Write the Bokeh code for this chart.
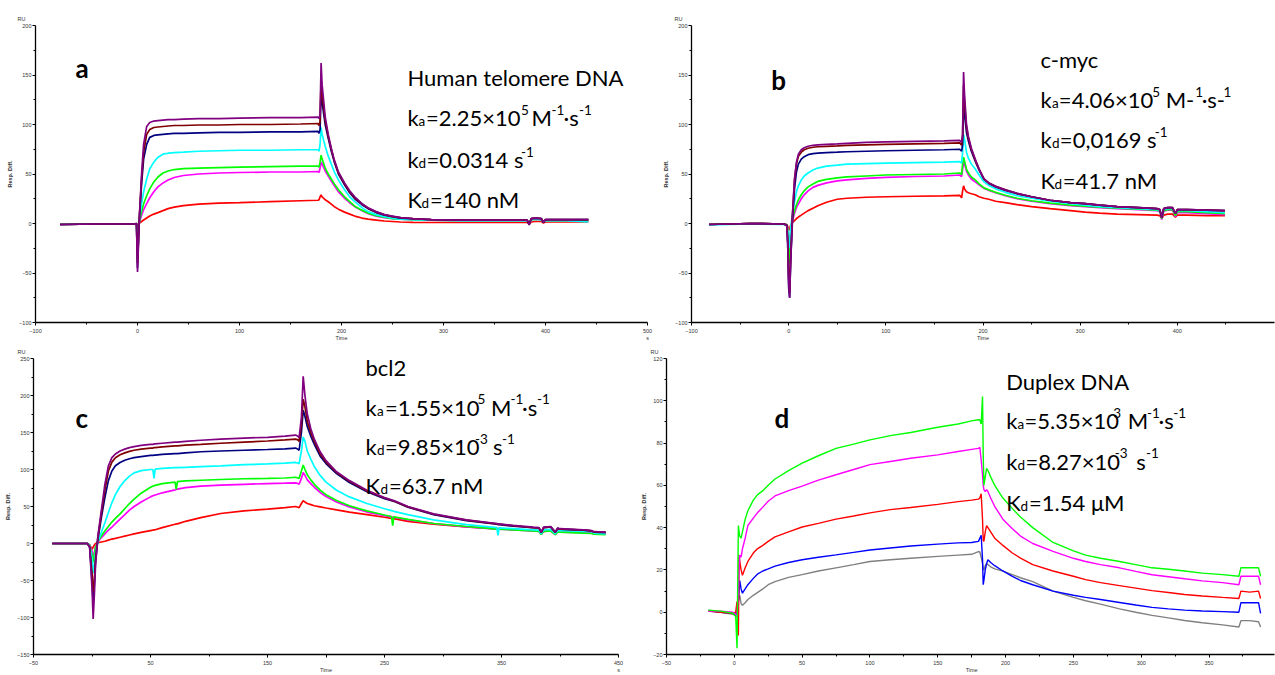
import math
from bokeh.plotting import figure
from bokeh.models import Range1d, Label, FixedTicker
from bokeh.layouts import column, row
from bokeh.embed import file_html
from bokeh.resources import INLINE

# ---------------- DATA ----------------
# Panel a : Human telomere DNA
TA = [-76, -36, -3, -1, 0, 1,
      2, 4, 6, 9, 12, 16, 20, 25, 30, 36,
      45, 60, 80, 100, 130, 160, 177, 178,
      179, 180, 181, 184, 187, 190, 193, 197,
      203, 208, 213, 220, 226, 234, 242, 250, 258, 270, 288, 320, 360,
      382, 384, 386, 390, 396, 398, 400, 420, 442]
A_PURPLE = [-1, -0.5, -0.5, 0, -49, -20,
            10, 50, 80, 98, 102, 103.5, 104, 104.5, 105, 105,
            105.5, 106, 106, 106.5, 107, 107, 107.5, 106,
            110, 162, 140, 108, 90, 76, 64, 52,
            41, 33, 27, 20, 16, 12, 9, 7.5, 6, 5, 4, 3.5, 3.5,
            3.5, -1, 5, 5.5, 5, 1, 4, 4, 4]
A_BROWN = [-1, -0.5, -0.5, 0, -40, -15,
           10, 45, 72, 90, 95, 97, 97.5, 98, 98.5, 99,
           99, 99.5, 99.5, 100, 100, 100.5, 101, 99,
           103, 145, 130, 104, 88, 75, 63, 51,
           40, 32, 26, 20, 15.5, 11.5, 9, 7, 6, 5, 4, 3.5, 3.5,
           3.5, -1, 5, 5.5, 5, 1, 4, 4, 4]
A_NAVY = [-1, -0.5, -0.5, 0, -45, -15,
          8, 40, 65, 80, 87, 89, 89.5, 90, 90.5, 91,
          91, 91.5, 92, 92, 92.5, 92.5, 93, 91,
          95, 135, 122, 100, 86, 73, 62, 50,
          39, 31, 25, 19, 15, 11, 8.5, 7, 5.5, 4.8, 4, 3.5, 3.5,
          3.5, -1.5, 5, 5.5, 5, 1, 4, 4, 4]
A_CYAN = [-1, -0.5, -0.5, 0, -25, -8,
          5, 20, 32, 45, 55, 62, 67, 70, 71, 71.5,
          72, 73, 73.5, 74, 74, 74.5, 74.5, 73,
          80, 97, 90, 78, 68, 60, 52, 44,
          34, 27, 22, 16, 12, 9, 7, 5.5, 4.5, 4, 3.3, 3, 3,
          3, 0, 4, 4.5, 4, 1, 3, 3, 1.5]
A_GREEN = [-1, -0.5, -0.5, 0, -15, -5,
           3, 12, 20, 28, 35, 42, 47, 51, 53, 54.5,
           55.5, 56, 56.5, 57, 57.5, 58, 58, 57,
           62, 69, 65, 56, 50, 45, 40, 34,
           27, 22, 17.5, 13.5, 10.5, 8, 6.5, 5, 4.5, 4, 3.5, 3, 3,
           3, 0, 4, 4.5, 4, 1, 3, 3, 3]
A_MAGENTA = [-1, -0.5, -0.5, 0, -10, -3,
             2, 8, 14, 20, 26, 32, 37, 41, 44, 46.5,
             48.5, 50, 51, 51.5, 52, 52, 52.5, 51.5,
             56, 62, 60, 53, 48, 43, 38, 32,
             25.5, 21, 17, 13, 10, 7.5, 6, 5, 4.3, 3.8, 3.3, 3, 3,
             3, 0, 4, 4.5, 4, 1, 3, 3, 3]
A_RED = [-1, -0.5, -0.5, 0, -4, -1,
         0.5, 2, 3.5, 5.5, 7.5, 9.5, 11, 13, 15, 16.5,
         18, 19.5, 20.5, 21, 22, 23, 23.5, 24,
         27, 29, 27, 24, 22, 19.5, 17, 14.5,
         11.5, 9.5, 7.5, 5.5, 4.5, 3.5, 2.5, 2, 1.5, 1.2, 1, 1, 1,
         1, 0, 1.5, 2, 2, 0.5, 1.5, 1.5, 1.5]

# Panel b : c-myc
TB = [-82, -40, -5, -2, -1, 0, 1, 2,
      4, 6, 8, 10, 13, 16, 20, 25, 30, 39,
      50, 60, 80, 100, 130, 160, 176, 178,
      179, 180, 181, 183, 185, 188, 192, 196,
      201, 206, 213, 223, 235, 250, 269, 290, 305, 320, 338, 360, 379,
      382, 384, 386, 390, 395, 398, 400, 410, 430, 449]
B_PURPLE = [-1, 0, -0.5, -2, -20, -60, -75, -40,
            10, 45, 62, 70, 74.5, 76.5, 78, 79, 79.5, 80,
            80.5, 81, 82, 82.5, 83, 83.5, 84, 82,
            90, 153, 130, 100, 88, 76, 65, 55,
            45, 41, 37.5, 34, 30.5, 27, 23.5, 21, 20, 18.5, 17, 16, 15,
            14, 6, 15, 16, 16, 10, 14, 14, 13.5, 13]
B_BROWN = [-1, 0, -0.5, -1.5, -15, -55, -70, -35,
           10, 43, 60, 68, 72, 74.5, 76, 77, 77.5, 78,
           78.5, 79, 79.5, 80, 80.5, 81, 81.5, 79,
           88, 140, 122, 97, 86, 75, 64, 55,
           45, 41, 37.5, 34, 30.5, 27, 23.5, 21, 20, 18.5, 17, 16, 15,
           14, 6, 15, 16, 16, 10, 14, 14, 13.5, 13]
B_NAVY = [-1, 0, -0.5, -2, -20, -65, -75, -40,
          5, 35, 52, 60, 65, 67.5, 69.5, 70.5, 71, 71.5,
          72, 72.5, 73, 73.5, 74, 74.5, 75, 73,
          80, 120, 110, 92, 83, 73, 63, 54,
          44.5, 40.5, 37, 33.5, 30, 27, 23.5, 21, 20, 18.5, 17, 16, 15,
          14, 6, 15, 16, 16, 10, 14, 14, 13.5, 13]
B_CYAN = [-1.5, -0.5, -1, -2, -8, -25, -20, -5,
          10, 22, 32, 38, 44, 48, 51, 54, 56, 58,
          59, 60, 60.5, 61, 61.5, 62, 62.5, 61,
          72, 90, 85, 72, 66, 60, 55, 49,
          42, 38.5, 35, 31.5, 28, 25.5, 22.5, 20, 18.5, 17, 16, 15, 14,
          13, 6, 14, 15, 15, 10, 13, 13, 12, 11]
B_GREEN = [-1, 0, -0.5, -1, -5, -35, -40, -10,
           5, 13, 19, 24, 29, 33, 37, 40, 42.5, 44.5,
           46, 47, 48, 49, 49.5, 50, 51, 49.5,
           60, 67, 63, 55, 51, 47, 44, 40,
           36, 34, 31.5, 28.5, 25.5, 23, 20.5, 18.5, 17.5, 16.5, 15.5, 14.5, 13.5,
           12.5, 5, 13, 14, 14, 8, 12, 12, 11, 10]
B_MAGENTA = [-1, 0, -0.5, -1, -5, -15, -20, -8,
             3, 10, 16, 20, 25, 29, 33, 36.5, 38.5, 41,
             43, 44, 45.5, 46.5, 47.5, 48, 49, 47.5,
             55, 62, 60, 53, 49, 45, 42, 39,
             35.5, 33.5, 31, 28, 25, 22.5, 20, 18, 17, 16, 15, 14, 13,
             12, 4, 12.5, 13.5, 13.5, 7, 11, 11, 10, 9]
B_RED = [-1, 0, -0.5, -1, -3, -7, -5, -2,
         1, 3, 5, 6.5, 8.5, 10.5, 13, 15.5, 18, 21.5,
         24.5, 25.5, 26.5, 27, 27.5, 28, 28.5, 26,
         33, 38, 35, 32, 31, 30, 29, 27,
         25.5, 24.5, 22.5, 21, 19, 17, 15, 13, 11.5, 10.5, 9.5, 9, 8.5,
         8, 5, 8.5, 9.5, 9.5, 6.5, 8.5, 8.5, 8, 8]

# Panel c : bcl2
TC = [-34, -4, -2, 0, 1, 2, 3,
      5, 8, 11, 14, 17, 20, 24, 28, 32, 36, 42,
      50, 52, 53, 54, 60, 71, 72, 73, 80, 93, 110, 130, 150, 165, 174, 176, 177,
      179, 180.5, 182, 184, 187, 190, 195, 200, 209, 220, 235, 250,
      256, 257, 258, 270, 292, 320, 346, 347, 348, 360, 377,
      382, 384, 386, 392, 396, 398, 400, 420, 427, 429, 439]
C_PURPLE = [0, 0, -5, -60, -102, -70, -30,
            10, 45, 80, 105, 116, 121, 125, 127.5, 129.5, 131, 132.5,
            134, 134, 134.5, 134.5, 135.5, 137, 137, 137, 138, 139.5, 141, 142.5, 143.5, 145, 146.5, 145, 143,
            170, 226, 200, 175, 155, 141, 124, 112, 97, 85, 72, 62,
            59, 58.5, 58, 50, 40, 32, 27, 26.5, 26.5, 24.5, 22,
            21.5, 15.5, 22, 23, 15.5, 21, 20, 18.5, 17.5, 16, 15.5]
C_BROWN = [0, 0, -4, -40, -66, -50, -20,
           8, 40, 72, 98, 110, 116, 120, 122.5, 124.5, 126, 127.5,
           129, 129, 129.5, 129.5, 130.5, 132, 132, 132, 133, 134, 135.5, 137, 138.5, 140, 141, 140, 138,
           160, 195, 185, 165, 150, 138, 121, 110, 96, 84, 71, 61.5,
           58.5, 58, 57.5, 49.5, 39.5, 31.5, 26.5, 26, 26, 24, 21.5,
           21, 15, 21.5, 22.5, 15, 20.5, 19.5, 18, 17, 15.5, 15]
C_NAVY = [0, 0, -5, -50, -80, -55, -25,
          5, 35, 62, 85, 98, 105, 109.5, 112.5, 114.5, 116, 117.5,
          119, 119, 119.5, 119.5, 120.5, 121.5, 121.5, 121.5, 122.5, 124, 125, 126, 127, 128, 129, 127.5, 126,
          150, 180, 172, 158, 145, 134, 118, 108, 94.5, 82.5, 70, 60.5,
          58, 57.5, 57, 49, 39, 31, 26, 25.5, 25.5, 23.5, 21.5,
          21, 15, 21.5, 22.5, 15, 20.5, 19.5, 18, 17, 15.5, 15]
C_CYAN = [0, 0, -3, -20, -40, -30, -12,
          2, 15, 28, 42, 55, 66, 77, 85, 91, 95.5, 98.5,
          100, 100, 88, 100.5, 101.5, 102.5, 102.5, 102.5, 103, 104, 105, 106.5, 107.5, 108.5, 109.5, 108.5, 108,
          125, 144, 138, 125, 114, 104, 92, 83, 72, 63, 54, 47,
          44.5, 44, 43.5, 39, 32, 25.5, 21.5, 11, 21, 20, 18.5,
          18, 13, 18.5, 19, 13, 17.5, 17.5, 16.5, 16, 14, 13]
C_GREEN = [0, 0, -2, -15, -25, -15, -5,
           3, 10, 17, 23, 29, 34, 40, 47, 54, 60, 68,
           76, 77.5, 78, 78.5, 81, 83, 73, 83.5, 84.5, 85.5, 86.5, 87.5, 88, 88.5, 89.5, 88.5, 88,
           98, 106, 100, 93, 86, 80, 72, 66, 58, 51, 44, 38.5,
           36.5, 24, 36, 32.5, 27, 23, 19.5, 19.5, 19.5, 18.5, 17,
           16.5, 12, 16.5, 17, 12, 15.5, 15.5, 14, 13.5, 12.5, 12]
C_MAGENTA = [0, 0, -2, -10, -20, -12, -4,
             2, 8, 13, 18, 22, 27, 33, 39, 45, 50, 56,
             63, 64.5, 65, 65.5, 68.5, 72.5, 73, 73.5, 75.5, 77.5, 79, 80, 81, 81.5, 82, 81, 80,
             88, 96, 92, 86, 81, 76, 69, 63.5, 56, 49.5, 42.5, 37.5,
             36, 35.5, 35.5, 32, 27, 22.5, 19.5, 19.5, 19.5, 18.5, 17,
             16.5, 12, 16.5, 17, 12, 15.5, 15.5, 14.5, 14, 13, 12.5]
C_RED = [0, 0, -2, -8, -5, -2, 0,
         1, 2, 3, 4.5, 6, 7, 8.5, 10, 11.5, 13, 15,
         17.5, 18, 18.5, 18.5, 21.5, 26, 26.5, 26.5, 30, 35, 40.5, 44, 46.5, 48.5, 50, 49, 48.5,
         54, 58, 56, 54, 52.5, 51, 49.5, 48, 45.5, 42.5, 39, 35.5,
         34, 33.5, 33.5, 30, 26, 22.5, 20, 20, 20, 19, 17.5,
         17, 13, 16.5, 17, 13, 16, 16, 15, 15, 13, 12.5]

# Panel d : Duplex DNA
TD = [-19, -10, -1, 1, 2, 3, 3.5, 4, 5, 6,
      8, 10, 14, 17, 21, 25, 30, 40, 50, 62, 75, 88, 100, 115, 130, 150, 165, 175,
      180, 181, 182, 183, 183.5, 184, 185, 186, 187, 189, 192, 198,
      205, 211, 220, 235, 250, 259, 270, 284, 296, 308, 320, 332, 345, 360, 372,
      373.5, 380, 386.5, 388]
D_GREEN = [1, 0.5, -0.5, -2, -17, 41, 38, 36, 35, 38,
           44, 48, 53, 55.5, 57.5, 60, 63, 67, 70.5, 74, 77.5, 79.5, 81.5, 83.5, 85, 87.5, 89, 90.5,
           91, 91, 89, 102, 75, 60, 64, 68, 67, 64, 60, 54,
           49, 45, 40, 33, 29, 27, 25.5, 24, 22.5, 21, 20.3, 19.5, 18.5, 17.8, 17,
           21, 21, 21, 17]
D_MAGENTA = [0.5, 0.5, 0, -1, -2, 10, 20, 27, 26, 30,
             35, 41, 44.5, 47, 49.7, 52.5, 55, 57.5, 59.6, 62.5, 65, 67.5, 69.8, 71.3, 72.8, 74.4, 76, 77,
             77.5, 78, 72, 65, 60, 58, 57, 58, 57, 54, 50, 44,
             39.5, 36, 32.5, 28.8, 25.5, 24, 22.5, 21, 19.3, 17.7, 16.8, 15.8, 14.8, 14, 13,
             17, 17, 17, 13]
D_RED = [0.5, 0, -0.5, 0, 5, -11, 27, 24, 20, 17.5,
         21, 24, 28, 30, 31.6, 33.5, 35.6, 38, 40.3, 42, 44, 45.5, 47, 48.5, 49.5, 51, 52.3, 53,
         53.5, 54, 56, 44, 34, 33.5, 38, 41, 40, 38, 35, 31.6,
         28, 25.6, 22.5, 19.5, 17, 15.4, 14, 12.6, 11.4, 10.2, 9.3, 8.4, 7.7, 7, 6.5,
         10, 9.5, 10, 6.5]
D_BLUE = [0.5, 0, -0.5, -1, 0, 5, 10, 15, 11, 9,
          11, 13, 16, 18, 19.5, 20.5, 21.8, 23.5, 24.8, 26, 27.1, 28.3, 29.4, 30.4, 31.3, 32.2, 32.8, 33,
          33.5, 35, 36.4, 25, 13, 15, 20, 23, 24.8, 23.5, 22, 19.5,
          17, 15, 13, 10, 8, 7, 6, 4.6, 3.4, 2.3, 1.6, 1, 0.6, 0.3, 0,
          4.5, 4.5, 4.5, -0.5]
D_GREY = [1, 0, -1, -1.5, -2, 5, 7, 8, 4, 3.3,
          4.5, 6, 8, 9.3, 11, 13, 14.5, 16.5, 17.8, 19.5, 21, 22.5, 24, 24.8, 25.5, 26.4, 27, 27.4,
          28.7, 28.5, 26, 23, 21, 20, 22, 23, 22.5, 21.5, 20.5, 19.4,
          17.8, 16.3, 14.5, 10, 7, 5.4, 3.8, 1.6, 0, -1.5, -2.7, -3.9, -5, -6, -7,
          -4, -4, -4.5, -7]

# tick positions
A_XT, A_XM = [-100, 0, 100, 200, 300, 400, 500], [-50, 50, 150, 250, 350, 450]
B_XT, B_XM = [-100, 0, 100, 200, 300, 400], [-50, 50, 150, 250, 350, 450]
AB_YT, AB_YM = [-100, -50, 0, 50, 100, 150, 200], [-75, -25, 25, 75, 125, 175]
C_XT, C_XM = [-50, 50, 150, 200, 250, 350, 450], [0, 100, 300, 400]
C_YT, C_YM = [-150, -100, -50, 0, 50, 100, 150, 200, 250], [-125, -75, -25, 25, 75, 125, 175, 225]
D_XT, D_XM = [-50, 0, 50, 100, 150, 175, 200, 250, 300, 350], [-25, 25, 75, 125, 225, 275, 325, 375]
D_YT, D_YM = [-20, 0, 20, 40, 60, 80, 100, 120], [-10, 10, 30, 50, 70, 90, 110]

# ---------------- LAYOUT / STYLE ----------------
PURPLE, BROWN, NAVY = "#800080", "#800000", "#000080"
CYAN, GREEN, MAGENTA, RED = "#00FFFF", "#00FF00", "#FF00FF", "#FF0000"
BLUE, GREY = "#0000FF", "#808080"

TXT_FONT = "Lato"
AX_FONT = "Liberation Sans"
AX_COL = "#333333"


def make_panel(fig_left, fig_top, width, height, bl, br, bt, bb, xr, yr,
               xt, xm, yt, ym, x_over, ru_offset):
    p = figure(width=width, height=height, x_range=Range1d(*xr), y_range=Range1d(*yr),
               output_backend="svg", toolbar_location=None,
               min_border_left=bl, min_border_right=br, min_border_top=bt, min_border_bottom=bb,
               title="RU")
    p.outline_line_color = None
    p.grid.visible = False
    p.background_fill_color = "white"
    p.border_fill_color = "white"
    p.title.align = "left"
    p.title.offset = ru_offset
    p.title.text_font = AX_FONT
    p.title.text_font_size = "5.5px"
    p.title.text_font_style = "normal"
    p.title.text_color = AX_COL
    p.title.standoff = 7
    p.xaxis.ticker = FixedTicker(ticks=xt, minor_ticks=xm)
    p.yaxis.ticker = FixedTicker(ticks=yt, minor_ticks=ym)
    for ax in (p.xaxis[0], p.yaxis[0]):
        ax.axis_line_color = "black"
        ax.axis_line_width = 1.3
        ax.major_tick_line_color = "black"
        ax.minor_tick_line_color = "black"
        ax.major_tick_in = 0
        ax.major_tick_out = 3
        ax.minor_tick_in = 0
        ax.minor_tick_out = 2
        ax.major_label_text_font_size = "5.5px"
        ax.major_label_text_font = AX_FONT
        ax.major_label_text_color = AX_COL
    p.xaxis.major_label_standoff = 2
    p.yaxis.major_label_standoff = 1
    p.xaxis.major_label_overrides = x_over
    p.yaxis.axis_label = "Resp. Diff."
    p.yaxis.axis_label_text_font = AX_FONT
    p.yaxis.axis_label_text_font_size = "5.5px"
    p.yaxis.axis_label_text_font_style = "bold"
    p.yaxis.axis_label_text_color = AX_COL
    p.yaxis.axis_label_standoff = 3
    fl = fig_left + bl
    fr = fig_left + width - br
    ft = fig_top + bt
    fb = fig_top + height - bb
    p._geo = (fl, fr, ft, fb, xr, yr)
    return p


def to_data(p, px, py):
    fl, fr, ft, fb, xr, yr = p._geo
    x = xr[0] + (px - fl) / (fr - fl) * (xr[1] - xr[0])
    y = yr[1] - (py - ft) / (fb - ft) * (yr[1] - yr[0])
    return x, y


def put(p, text, px, py, size, style="normal"):
    x, y = to_data(p, px, py)
    p.add_layout(Label(x=x, y=y, text=text, text_font=TXT_FONT, text_font_size=f"{size}px",
                       text_font_style=style, text_align="left", text_baseline="alphabetic",
                       text_color="black"))


def rich_lines(p, lines):
    for base, frags in lines:
        for txt, px, kind in frags:
            if kind == "n":
                put(p, txt, px, base, 22)
            elif kind == "sup":
                put(p, txt, px, base - 8, 13.5)
            else:
                put(p, txt, px, base + 3.5, 13.5)


def curves(p, t, series, lw):
    for ys, col in series:
        p.line(t, ys, line_color=col, line_width=lw)


# ---- panel a ----
pa = make_panel(0, 0, 660, 343, 35, 13, 25, 19, (-100, 500), (-100, 200),
                A_XT, A_XM, AB_YT, AB_YM, {200: "200\nTime", 500: "500\ns"}, -18)
curves(pa, TA, [(A_RED, RED), (A_MAGENTA, MAGENTA), (A_GREEN, GREEN), (A_CYAN, CYAN),
                (A_NAVY, NAVY), (A_BROWN, BROWN), (A_PURPLE, PURPLE)], 1.7)
put(pa, "a", 75, 68, 26, style="bold")
rich_lines(pa, [
    (77, [("Human telomere DNA", 407, "n")]),
    (118, [("k", 407, "n"), ("a", 418, "sub"), ("=2.25×10", 425.5, "n"), ("5", 520.5, "sup"),
           ("M", 531, "n"), ("-1", 551, "sup"), ("·s", 563, "n"), ("-1", 578.5, "sup")]),
    (160, [("k", 407, "n"), ("d", 418, "sub"), ("=0.0314 s", 426, "n"), ("-1", 520.5, "sup")]),
    (200, [("K", 407, "n"), ("d", 421, "sub"), ("=140 nM", 429.5, "n")]),
])

# ---- panel b ----
pb = make_panel(660, 0, 615, 343, 30, 1, 25, 19, (-100, 500), (-100, 200),
                B_XT, B_XM, AB_YT, AB_YM, {200: "200\nTime"}, -17)
curves(pb, TB, [(B_RED, RED), (B_MAGENTA, MAGENTA), (B_GREEN, GREEN), (B_CYAN, CYAN),
                (B_NAVY, NAVY), (B_BROWN, BROWN), (B_PURPLE, PURPLE)], 1.7)
put(pb, "b", 770, 80, 26, style="bold")
rich_lines(pb, [
    (59.5, [("c-myc", 1039.5, "n")]),
    (100, [("k", 1039.5, "n"), ("a", 1051, "sub"), ("=4.06×10", 1058, "n"), ("5", 1151.5, "sup"),
           ("M-", 1165, "n"), ("1", 1194.5, "sup"), ("·s-", 1201, "n"), ("1", 1223, "sup")]),
    (140, [("k", 1039.5, "n"), ("d", 1051, "sub"), ("=0,0169 s", 1059, "n"), ("-1", 1154, "sup")]),
    (181.5, [("K", 1039.5, "n"), ("d", 1053.5, "sub"), ("=41.7 nM", 1062, "n")]),
])

# ---- panel c ----
pc = make_panel(0, 343, 638, 332, 33, 20, 14, 17, (-50, 450), (-150, 250),
                C_XT, C_XM, C_YT, C_YM, {200: " \nTime", 450: "450\ns"}, -16)
curves(pc, TC, [(C_RED, RED), (C_MAGENTA, MAGENTA), (C_GREEN, GREEN), (C_CYAN, CYAN),
                (C_NAVY, NAVY), (C_BROWN, BROWN), (C_PURPLE, PURPLE)], 1.7)
put(pc, "c", 75, 418, 26, style="bold")
rich_lines(pc, [
    (366, [("bcl2", 365, "n")]),
    (406.5, [("k", 365, "n"), ("a", 376.5, "sub"), ("=1.55×10", 384.5, "n"), ("5", 477, "sup"),
             ("M", 490.5, "n"), ("-1", 510, "sup"), ("·s", 521.5, "n"), ("-1", 536.5, "sup")]),
    (446.5, [("k", 365, "n"), ("d", 376.5, "sub"), ("=9.85×10", 384.5, "n"), ("-3", 474.5, "sup"),
             ("s", 492.5, "n"), ("-1", 501.5, "sup")]),
    (486.5, [("K", 365, "n"), ("d", 380, "sub"), ("=63.7 nM", 388.5, "n")]),
])

# ---- panel d ----
xd1 = -50 + 613 / 1.3675
pd_ = make_panel(638, 343, 637, 332, 23, 1, 14, 17, (-50, xd1), (-20, 120),
                 D_XT, D_XM, D_YT, D_YM, {175: " \nTime"}, -16)
curves(pd_, TD, [(D_GREY, GREY), (D_BLUE, BLUE), (D_RED, RED), (D_MAGENTA, MAGENTA),
                 (D_GREEN, GREEN)], 1.4)
put(pd_, "d", 770, 418, 26, style="bold")
rich_lines(pd_, [
    (380, [("Duplex DNA", 1003.5, "n")]),
    (420, [("k", 1003.5, "n"), ("a", 1015, "sub"), ("=5.35×10", 1022, "n"), ("3", 1111.5, "sup"),
           ("M", 1126, "n"), ("-1", 1145.5, "sup"), ("·s", 1157, "n"), ("-1", 1172, "sup")]),
    (461.5, [("k", 1003.5, "n"), ("d", 1015, "sub"), ("=8.27×10", 1023, "n"), ("-3", 1113, "sup"),
             ("s", 1134.5, "n"), ("-1", 1144.5, "sup")]),
    (503, [("K", 1003.5, "n"), ("d", 1018, "sub"), ("=1.54 μM", 1026.5, "n")]),
])

layout = column(row(pa, pb), row(pc, pd_))
open("out.html", "w").write(file_html(layout, INLINE))
